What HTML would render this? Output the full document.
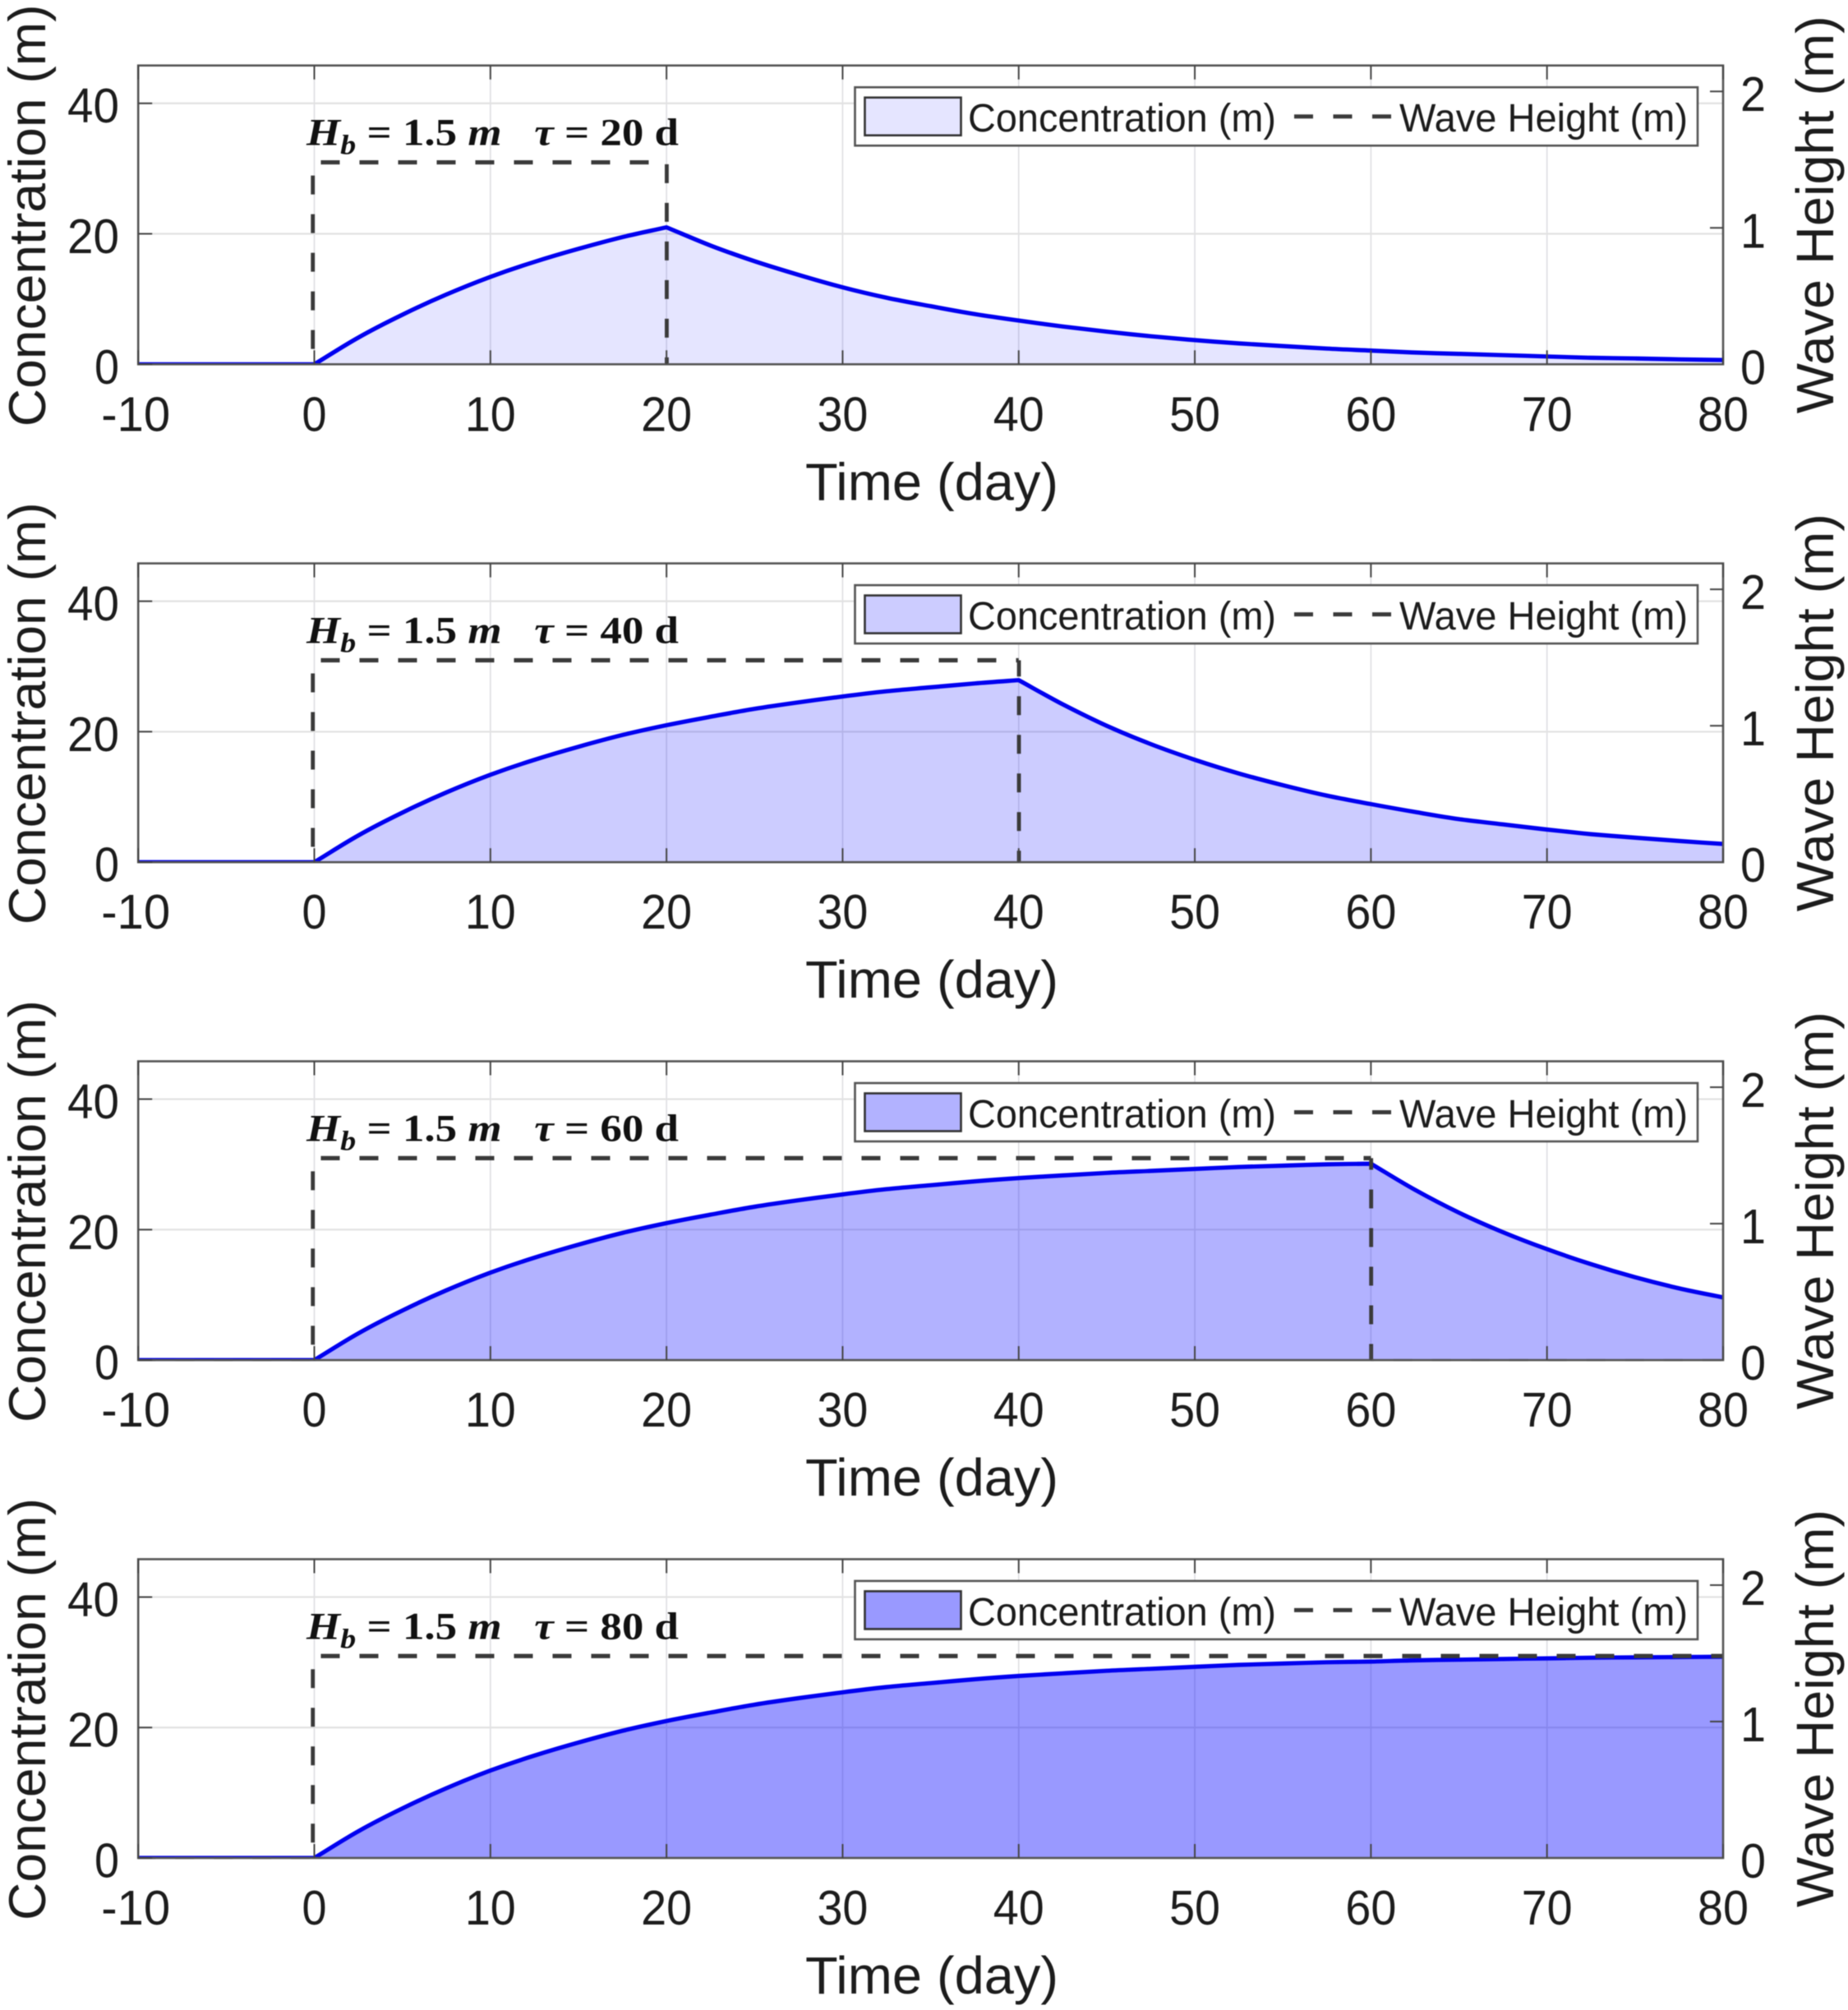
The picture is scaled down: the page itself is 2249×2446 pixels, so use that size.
<!DOCTYPE html>
<html lang="en">
<head>
<meta charset="utf-8">
<title>Concentration and wave height over time</title>
<style>
html,body{margin:0;padding:0;background:#fff;}
#chart{display:block;width:2249px;height:2446px;filter:blur(.6px);}
text{font-family:"Liberation Sans",sans-serif;fill:#1c1c1c;}
</style>
</head>
<body>
<svg id="chart" xmlns="http://www.w3.org/2000/svg" width="2249" height="2446" viewBox="0 0 2249 2446"></svg>
<script>
const xTicks = [-10, 0, 10, 20, 30, 40, 50, 60, 70, 80];
const leftTicks = [0, 20, 40];
const rightTicks = [0, 1, 2];
const tauDays = [20, 40, 60, 80];
const timeDays = [-10, 0, 2.5, 5, 7.5, 10, 12.5, 15, 17.5, 20, 22.5, 25, 27.5, 30, 32.5, 35, 37.5, 40, 42.5, 45, 47.5, 50, 52.5, 55, 57.5, 60, 62.5, 65, 67.5, 70, 72.5, 75, 77.5, 80];
const concentrationTau20 = [0, 0, 4.1, 7.6, 10.7, 13.4, 15.7, 17.7, 19.5, 21.0, 18.2, 15.8, 13.7, 11.8, 10.2, 8.9, 7.7, 6.7, 5.8, 5.0, 4.3, 3.7, 3.2, 2.8, 2.4, 2.1, 1.8, 1.6, 1.4, 1.2, 1.0, 0.9, 0.75, 0.65];
const concentrationTau40 = [0, 0, 4.1, 7.6, 10.7, 13.4, 15.7, 17.7, 19.5, 21.0, 22.3, 23.5, 24.5, 25.4, 26.2, 26.8, 27.4, 27.9, 24.2, 20.9, 18.1, 15.7, 13.6, 11.8, 10.2, 8.9, 7.7, 6.6, 5.8, 5.0, 4.3, 3.75, 3.25, 2.8];
const concentrationTau60 = [0, 0, 4.1, 7.6, 10.7, 13.4, 15.7, 17.7, 19.5, 21.0, 22.3, 23.5, 24.5, 25.4, 26.2, 26.8, 27.4, 27.9, 28.3, 28.7, 29.0, 29.3, 29.6, 29.8, 30.0, 30.1, 26.1, 22.6, 19.6, 17.0, 14.7, 12.7, 11.0, 9.6];
const concentrationTau80 = [0, 0, 4.1, 7.6, 10.7, 13.4, 15.7, 17.7, 19.5, 21.0, 22.3, 23.5, 24.5, 25.4, 26.2, 26.8, 27.4, 27.9, 28.3, 28.7, 29.0, 29.3, 29.6, 29.8, 30.0, 30.1, 30.3, 30.4, 30.5, 30.6, 30.7, 30.75, 30.8, 30.85];
const waveTimeTau20 = [-10, 0, 0, 20, 20, 80];
const waveTimeTau40 = [-10, 0, 0, 40, 40, 80];
const waveTimeTau60 = [-10, 0, 0, 60, 60, 80];
const waveTimeTau80 = [-10, 0, 0, 80];
const waveHeightTau20 = [0, 0, 1.48, 1.48, 0, 0];
const waveHeightTau40 = [0, 0, 1.48, 1.48, 0, 0];
const waveHeightTau60 = [0, 0, 1.48, 1.48, 0, 0];
const waveHeightTau80 = [0, 0, 1.48, 1.48];
const concentrationSeries = [concentrationTau20, concentrationTau40, concentrationTau60, concentrationTau80];
const waveTimeSeries = [waveTimeTau20, waveTimeTau40, waveTimeTau60, waveTimeTau80];
const waveHeightSeries = [waveHeightTau20, waveHeightTau40, waveHeightTau60, waveHeightTau80];

const svg = document.getElementById('chart');
const NS = 'http://www.w3.org/2000/svg';
const plotLeft = 168.2, plotRight = 2097, plotHeight = 363.6;
const firstBottom = 443.3, panelStep = 605.9;
const xMin = -10, xMax = 80, leftMax = 45.8, rightMax = 2.19;
const fillOpacity = [0.1, 0.2, 0.3, 0.4];

function xScale(t) { return plotLeft + (t - xMin) / (xMax - xMin) * (plotRight - plotLeft); }
function leftScale(v, bottom) { return bottom - v / leftMax * plotHeight; }
function rightScale(v, bottom) { return bottom - v / rightMax * plotHeight; }

function make(tag, attrs, parent) {
  const el = document.createElementNS(NS, tag);
  for (const k in attrs) el.setAttribute(k, attrs[k]);
  parent.appendChild(el);
  return el;
}

// Smooth path through the data points; corners stay sharp where the regime changes.
function curvePath(xs, ys, corners) {
  let d = 'M' + xs[0].toFixed(1) + ' ' + ys[0].toFixed(1);
  const slope = function (i) {
    const isCorner = corners.indexOf(i) >= 0;
    return { corner: isCorner, dy: i > 0 && i < xs.length - 1 ? (ys[i + 1] - ys[i - 1]) / (xs[i + 1] - xs[i - 1]) : 0 };
  };
  for (let i = 0; i < xs.length - 1; i++) {
    const h = xs[i + 1] - xs[i];
    const chord = (ys[i + 1] - ys[i]) / h;
    const a = slope(i), b = slope(i + 1);
    const m0 = a.corner || i === 0 ? chord : a.dy;
    const m1 = b.corner || i + 1 === xs.length - 1 ? chord : b.dy;
    d += 'C' + (xs[i] + h / 3).toFixed(1) + ' ' + (ys[i] + m0 * h / 3).toFixed(1) + ' ' +
         (xs[i + 1] - h / 3).toFixed(1) + ' ' + (ys[i + 1] - m1 * h / 3).toFixed(1) + ' ' +
         xs[i + 1].toFixed(1) + ' ' + ys[i + 1].toFixed(1);
  }
  return d;
}

tauDays.forEach(function (tau, p) {
  const bottom = firstBottom + p * panelStep;
  const top = bottom - plotHeight;
  const conc = concentrationSeries[p];
  const waveT = waveTimeSeries[p];
  const waveH = waveHeightSeries[p];

  const panel = make('g', {}, svg);
  
  

  // grid
  xTicks.forEach(function (t) {
    const g = make('line', { x1: xScale(t), x2: xScale(t), y1: top, y2: bottom, stroke: '#dedee2', 'stroke-width': 1.6 }, panel);
    
    
  });
  leftTicks.forEach(function (v) {
    const g = make('line', { x1: plotLeft, x2: plotRight, y1: leftScale(v, bottom), y2: leftScale(v, bottom), stroke: '#e2e2e2', 'stroke-width': 2.2 }, panel);
    
    
  });

  // area + curve
  const xs = timeDays.map(function (t) { return xScale(t); });
  const ys = conc.map(function (v) { return leftScale(v, bottom); });
  const corners = [timeDays.indexOf(0), timeDays.indexOf(tau)];
  const curveD = curvePath(xs, ys, corners);
  const area = make('path', { d: curveD + 'L' + xScale(xMax) + ' ' + bottom + 'L' + xScale(xMin) + ' ' + bottom + 'Z', fill: '#0000ff', 'fill-opacity': fillOpacity[p] }, panel);
  
  

  const clipId = 'clip' + p;
  const clip = make('clipPath', { id: clipId }, panel);
  make('rect', { x: plotLeft, y: top, width: plotRight - plotLeft, height: plotHeight + 1 }, clip);

  const curve = make('path', { d: curveD, fill: 'none', stroke: '#0000f0', 'stroke-width': 5.2, 'stroke-linejoin': 'round', 'clip-path': 'url(#' + clipId + ')' }, panel);
  
  

  // wave height step line: legs share one continuous dash rhythm
  let travelled = 0;
  for (let i = 0; i < waveT.length - 1; i++) {
    const x1 = xScale(waveT[i]), x2 = xScale(waveT[i + 1]);
    const y1 = rightScale(waveH[i], bottom), y2 = rightScale(waveH[i + 1], bottom);
    const vertical = x1 === x2;
    const flatLow = !vertical && waveH[i] === 0;
    const nudge = vertical ? (waveT[i] === 0 ? -1.8 : 0.3) : 0;
    const leg = make('line', {
      x1: x1 + nudge, x2: x2 + nudge, y1: y1, y2: y2,
      stroke: flatLow ? '#666' : '#3a3a3a',
      'stroke-width': flatLow ? 2.5 : (vertical ? 4.8 : 5.2),
      'stroke-dasharray': '23 24',
      'stroke-dashoffset': travelled + 2
    }, panel);
    
    
    travelled += Math.abs(x2 - x1) + Math.abs(y2 - y1);
  }

  // frame
  const frame = make('rect', { x: plotLeft, y: top, width: plotRight - plotLeft, height: plotHeight, fill: 'none', stroke: '#555', 'stroke-width': 2.6 }, panel);
  
  

  // x ticks + labels
  xTicks.forEach(function (t) {
    const a = make('line', { x1: xScale(t), x2: xScale(t), y1: bottom, y2: bottom - 17, stroke: '#444', 'stroke-width': 2 }, panel);
    
    
    const b = make('line', { x1: xScale(t), x2: xScale(t), y1: top, y2: top + 17, stroke: '#444', 'stroke-width': 2 }, panel);
    
    
    const lab = make('text', { x: xScale(t) - (t < 0 ? 3 : 0), y: bottom + 81, 'font-size': 59, 'text-anchor': 'middle', textLength: t < 0 ? 84 : (t === 0 ? 30 : 62), lengthAdjust: 'spacingAndGlyphs' }, panel);
    
    
    lab.textContent = String(t);
  });

  // left ticks + labels
  leftTicks.forEach(function (v) {
    const y = leftScale(v, bottom);
    const a = make('line', { x1: plotLeft, x2: plotLeft + 17, y1: y, y2: y, stroke: '#444', 'stroke-width': 2 }, panel);
    
    
    const lab = make('text', { x: 145, y: y + 23.5, 'font-size': 59, 'text-anchor': 'end', textLength: v === 0 ? 30 : 63, lengthAdjust: 'spacingAndGlyphs' }, panel);
    
    
    lab.textContent = String(v);
  });

  // right ticks + labels
  rightTicks.forEach(function (v) {
    const y = rightScale(v, bottom);
    if (v > 0) {
      const a = make('line', { x1: plotRight, x2: plotRight - 16, y1: y, y2: y, stroke: '#444', 'stroke-width': 2 }, panel);
      
      
    }
    const lab = make('text', { x: 2118, y: y + 24, 'font-size': 59, 'text-anchor': 'start', textLength: 31, lengthAdjust: 'spacingAndGlyphs' }, panel);
    
    
    lab.textContent = String(v);
  });

  // axis titles
  const yl = make('text', { transform: 'translate(55 ' + (bottom - 181) + ') rotate(-90)', 'font-size': 63, 'text-anchor': 'middle', textLength: 514, lengthAdjust: 'spacingAndGlyphs' }, panel);
  
  
  yl.textContent = 'Concentration (m)';

  const yr = make('text', { transform: 'translate(2231 ' + (bottom - 182) + ') rotate(-90)', 'font-size': 64, 'text-anchor': 'middle', textLength: 484, lengthAdjust: 'spacingAndGlyphs' }, panel);
  
  
  yr.textContent = 'Wave Height (m)';

  const xl = make('text', { x: 1134, y: bottom + 165, 'font-size': 64, 'text-anchor': 'middle', textLength: 308, lengthAdjust: 'spacingAndGlyphs' }, panel);
  
  
  xl.textContent = 'Time (day)';

  // annotation
  const note = make('text', { x: 373, y: top + 97, 'font-size': 47, 'font-weight': 'bold', textLength: 453, lengthAdjust: 'spacingAndGlyphs', 'xml:space': 'preserve' }, panel);
  
  
  note.style.fontFamily = '"Liberation Serif", serif';
  note.style.fill = '#111';
  note.style.whiteSpace = 'pre';
  const parts = [
    ['H', 'italic', 47, 0], ['b', 'italic', 34, 11], [' = 1.5 ', 'normal', 47, -11], ['m', 'italic', 47, 0],
    ['   ', 'normal', 47, 0], ['\u03C4', 'italic', 47, 0], [' = ' + tau + ' d', 'normal', 47, 0]
  ];
  parts.forEach(function (q) {
    const s = make('tspan', { 'font-style': q[1], 'font-size': q[2], dy: q[3] }, note);
    s.textContent = q[0];
  });

  // legend
  const legend = make('g', {}, panel);
  
  
  const lt = top + 26.5;
  const box = make('rect', { x: 1040.5, y: lt, width: 1025.5, height: 71, fill: '#fff', stroke: '#555', 'stroke-width': 2.6 }, legend);
  
  
  const patch = make('rect', { x: 1052.5, y: lt + 12.5, width: 117, height: 46, fill: '#0000ff', 'fill-opacity': fillOpacity[p], stroke: '#333', 'stroke-width': 2.6 }, legend);
  
  
  const t1 = make('text', { x: 1178, y: lt + 54, 'font-size': 48, textLength: 375, lengthAdjust: 'spacingAndGlyphs' }, legend);
  
  
  t1.textContent = 'Concentration (m)';
  const dash = make('line', { x1: 1575, x2: 1693, y1: lt + 35.5, y2: lt + 35.5, stroke: '#3a3a3a', 'stroke-width': 5, 'stroke-dasharray': '23 24.5' }, legend);
  
  
  const t2 = make('text', { x: 1703, y: lt + 54, 'font-size': 48, textLength: 351, lengthAdjust: 'spacingAndGlyphs' }, legend);
  
  
  t2.textContent = 'Wave Height (m)';
});
</script>
</body>
</html>
